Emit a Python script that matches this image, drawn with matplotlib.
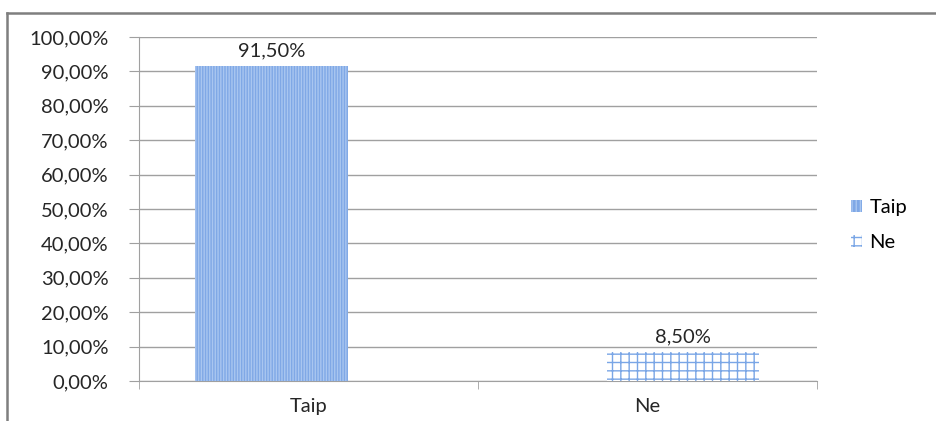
import matplotlib
matplotlib.use('Agg')
import matplotlib.pyplot as plt
from matplotlib.lines import Line2D
from matplotlib.patches import Patch

plt.rcParams['font.family'] = ['Lato', 'DejaVu Sans']
plt.rcParams['hatch.linewidth'] = 1.0

categories = ['Taip', 'Ne']
series = ['Taip', 'Ne']
values = [91.5, 8.5]
value_labels = ['91,50%', '8,50%']
yticks = [0, 10, 20, 30, 40, 50, 60, 70, 80, 90, 100]

FS = 14.5
TXT = '#262626'

fig = plt.figure(figsize=(9.36, 4.21), dpi=100)
ax = fig.add_axes([0.1485, 0.095, 0.7245, 0.817])

# bar 1: fine dotted fill, bar 2: grid hatch on white
offsets = [-0.11, 0.105]
width = 0.45
b1 = ax.bar(0 + offsets[0], values[0], width=width, color='#7fa8e6',
            edgecolor='#a9c6f0', hatch='||||||', linewidth=0, zorder=3)
b2 = ax.bar(1 + offsets[1], values[1], width=width, color='white',
            edgecolor='#7aa6e6', hatch='++', linewidth=0, zorder=3)

for i, (v, lab) in enumerate(zip(values, value_labels)):
    ax.text(i + offsets[i], v + 2.0, lab, ha='center', va='bottom',
            fontsize=FS, color=TXT)

ax.set_xlim(-0.5, 1.5)
ax.set_ylim(0, 100)
ax.set_yticks(yticks)
ax.set_yticklabels(['%d,00%%' % t for t in yticks], fontsize=FS, color=TXT)
ax.set_xticks([0, 1])
ax.set_xticklabels(categories, fontsize=FS, color=TXT)
ax.tick_params(axis='x', length=0, pad=12)
ax.tick_params(axis='y', length=7, color='#a0a0a0', pad=15)
ax.set_xticks([-0.5, 0.5, 1.5], minor=True)
ax.tick_params(axis='x', which='minor', length=6, color='#a0a0a0')

ax.grid(axis='y', color='#a0a0a0', linewidth=1, zorder=0)
for s in ['top', 'right']:
    ax.spines[s].set_visible(False)
ax.spines['left'].set_color('#a0a0a0')
ax.spines['bottom'].set_color('#a0a0a0')

handles = [Patch(facecolor='#7fa8e6', edgecolor='#a9c6f0', hatch='||||', linewidth=0),
           Patch(facecolor='white', edgecolor='#7aa6e6', hatch='++', linewidth=0)]
fig.legend(handles, series, loc='center left', bbox_to_anchor=(0.89, 0.465),
           frameon=False, fontsize=FS, handlelength=0.55, handleheight=0.55,
           handletextpad=0.35, labelspacing=0.9)

# outer chart border (top and left visible)
fig.add_artist(Line2D([7 / 936, 7 / 936], [0, 1 - 13 / 421], transform=fig.transFigure,
                      color='#7f7f7f', linewidth=1.8))
fig.add_artist(Line2D([7 / 936, 1], [1 - 13 / 421, 1 - 13 / 421], transform=fig.transFigure,
                      color='#7f7f7f', linewidth=1.8))

fig.savefig('out.png', dpi=100)
